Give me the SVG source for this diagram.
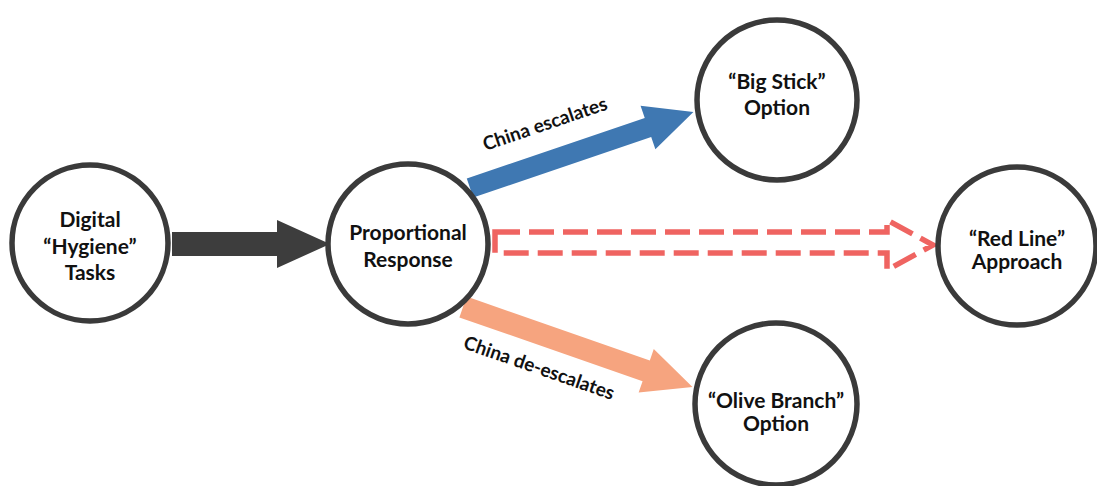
<svg xmlns="http://www.w3.org/2000/svg" width="1097" height="486" viewBox="0 0 1097 486">
<style>
.node circle{fill:#fff;stroke:#3a3a3a;stroke-width:5.5}
.lbl{font-family:Lato,"Open Sans","Liberation Sans",sans-serif;font-weight:700;font-size:21px;fill:#111;text-anchor:middle}
.elbl{font-family:Lato,"Open Sans","Liberation Sans",sans-serif;font-weight:700;font-size:19px;fill:#111;text-anchor:middle}
</style>
<rect width="1097" height="486" fill="#fff"/>
<g id="connectors">
<polygon points="172,232 277,232 277,220 330,244 277,268 277,256 172,256" fill="#3d3d3d"/>
<polygon transform="translate(470,188) rotate(-18.8)" points="0,-10 188,-10 188,-23 236,0 188,23 188,10 0,10" fill="#3f78b2"/>
<polygon transform="translate(463,307) rotate(19.2)" points="0,-11 194,-11 194,-23 243,0 194,23 194,11 0,11" fill="#f6a47f"/>
<polygon points="495,232 887,232 887,220 933,245 887,270 887,253 495,253" fill="none" stroke="#ef6461" stroke-width="5.5" stroke-dasharray="25 9" stroke-linejoin="miter"/>
<text class="elbl" transform="translate(547,130) rotate(-18.8)">China escalates</text>
<text class="elbl" transform="translate(537,374) rotate(19.2)">China de-escalates</text>
</g>
<g id="digital" class="node">
<circle cx="90" cy="243" r="78"/>
<text class="lbl" x="90" y="227">Digital</text>
<text class="lbl" x="90" y="254">“Hygiene”</text>
<text class="lbl" x="90" y="280">Tasks</text>
</g>
<g id="proportional" class="node">
<circle cx="408" cy="244" r="80"/>
<text class="lbl" x="408" y="240">Proportional</text>
<text class="lbl" x="408" y="267">Response</text>
</g>
<g id="bigstick" class="node">
<circle cx="777" cy="100" r="80"/>
<text class="lbl" x="777" y="89">“Big Stick”</text>
<text class="lbl" x="777" y="115">Option</text>
</g>
<g id="redline" class="node">
<circle cx="1017" cy="246" r="79"/>
<text class="lbl" x="1017" y="246">“Red Line”</text>
<text class="lbl" x="1017" y="269">Approach</text>
</g>
<g id="olive" class="node">
<circle cx="776" cy="404" r="81"/>
<text class="lbl" x="776" y="408">“Olive Branch”</text>
<text class="lbl" x="776" y="431">Option</text>
</g>
</svg>
